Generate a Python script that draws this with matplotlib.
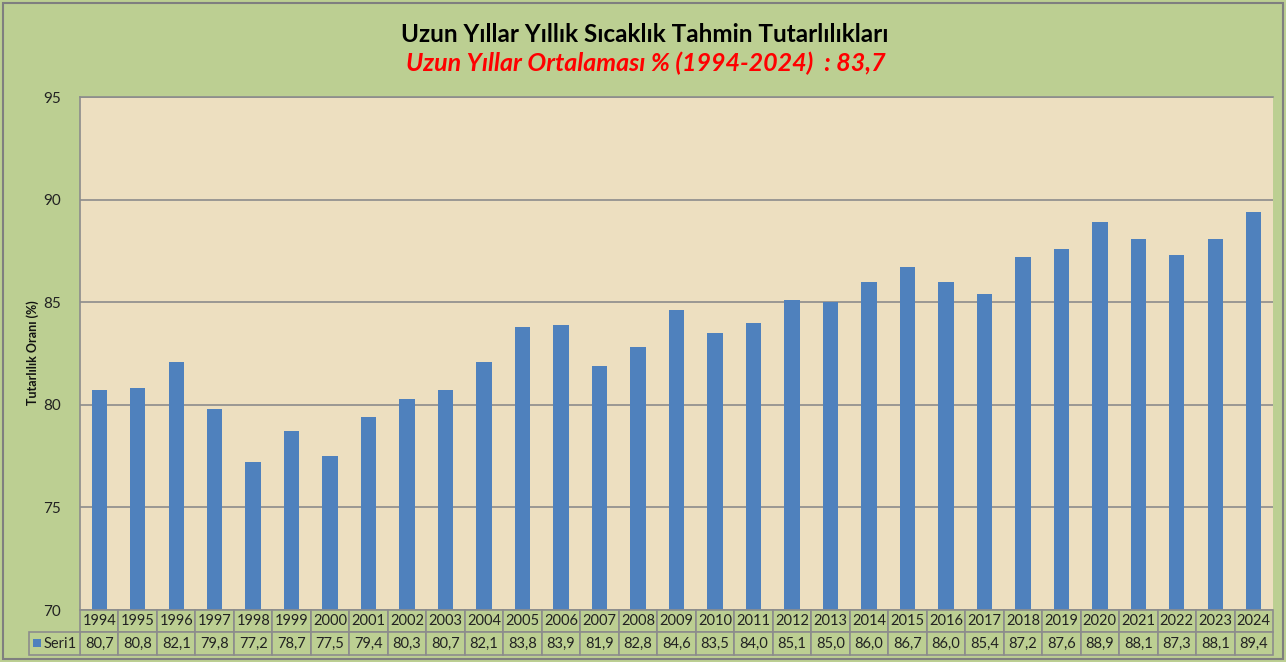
import matplotlib
matplotlib.use("Agg")
import matplotlib.pyplot as plt
from matplotlib.patches import Rectangle
import matplotlib.transforms as mtransforms

years = [str(y) for y in range(1994, 2025)]
values = [80.7, 80.8, 82.1, 79.8, 77.2, 78.7, 77.5, 79.4, 80.3, 80.7, 82.1, 83.8,
          83.9, 81.9, 82.8, 84.6, 83.5, 84.0, 85.1, 85.0, 86.0, 86.7, 86.0, 85.4,
          87.2, 87.6, 88.9, 88.1, 87.3, 88.1, 89.4]
yticks = [70, 75, 80, 85, 90, 95]
series_name = "Seri1"
title = "Uzun Yıllar Yıllık Sıcaklık Tahmin Tutarlılıkları"
subtitle = "Uzun Yıllar Ortalaması % (1994-2024)  : 83,7"
ylabel = "Tutarlılık Oranı (%)"

GREEN = "#bccf92"
BEIGE = "#eddfc0"
BLUE = "#4f81bd"
GRID = "#8c8c8c"

plt.rcParams['font.family'] = ['Lato', 'DejaVu Sans']

W, H = 1286, 662
fig = plt.figure(figsize=(W / 100, H / 100), dpi=100, facecolor=GREEN)

# outer border
fig.patches.append(Rectangle((3 / W, 3 / H), 1 - 6 / W, 1 - 6 / H, transform=fig.transFigure,
                             fill=False, edgecolor="#7f7f7f", linewidth=1.5))

left, right, top, bottom = 80, 1273, 97, 610
ax = fig.add_axes([left / W, 1 - bottom / H, (right - left) / W, (bottom - top) / H])
ax.set_facecolor(BEIGE)

x = list(range(len(years)))
ax.bar(x, [v - 70 for v in values], bottom=70, width=0.4, color=BLUE, zorder=3)
ax.set_xlim(-0.5, len(years) - 0.5)
ax.set_ylim(70, 95)
ax.set_yticks(yticks)
ax.yaxis.grid(True, color=GRID, linewidth=1.2, zorder=1)
ax.set_axisbelow(True)
ax.tick_params(axis='y', length=0, pad=14, labelsize=11, labelcolor="#222222")
ax.tick_params(axis='x', length=0, labelbottom=False)
for side in ['right', 'bottom']:
    ax.spines[side].set_visible(False)
ax.spines['left'].set_color(GRID)
ax.spines['top'].set_color(GRID)
ax.spines['left'].set_linewidth(1.2)
ax.spines['top'].set_linewidth(1.2)

fig.text(33 / W, 1 - 353 / H, ylabel, rotation=90, ha='center', va='center',
         fontsize=9, fontweight='bold', color="#111111")

fig.text(645 / W, 1 - 34 / H, title, ha='center', va='center', fontsize=17.5,
         fontweight='bold', color='black')
fig.text(646 / W, 1 - 63 / H, subtitle, ha='center', va='center', fontsize=18,
         fontweight='bold', fontstyle='italic', color='#ff0000')

# data table
ah = bottom - top
row1_top, row1_bot, row2_bot = 0.0, -(632 - 610) / ah, -(655 - 610) / ah
trans = mtransforms.blended_transform_factory(ax.transData, ax.transAxes)
for i, (yr, v) in enumerate(zip(years, values)):
    for (y0, y1, txt) in [(row1_bot, row1_top, yr), (row2_bot, row1_bot, f"{v:.1f}".replace('.', ','))]:
        ax.add_patch(Rectangle((i - 0.5, y0), 1, y1 - y0, transform=trans, facecolor=GREEN,
                               edgecolor=GRID, linewidth=1.2, clip_on=False, zorder=5))
        ax.text(i, (y0 + y1) / 2, txt, transform=trans, ha='center', va='center',
                fontsize=10.5, color='#222222', clip_on=False, zorder=6)

# legend cell
lx0 = (29 - left) / (right - left) * len(years) - 0.5
ax.add_patch(Rectangle((lx0, row2_bot), -0.5 - lx0, row1_bot - row2_bot, transform=trans,
                       facecolor=GREEN, edgecolor=GRID, linewidth=1.2, clip_on=False, zorder=5))
fig.patches.append(Rectangle((33 / W, 1 - 647 / H), 8 / W, 8 / H, transform=fig.transFigure,
                             facecolor=BLUE, edgecolor='none', zorder=7))
fig.text(44 / W, 1 - 643.5 / H, series_name, ha='left', va='center', fontsize=10.5, color='#222222')

fig.savefig("out.png", dpi=100, facecolor=GREEN)
